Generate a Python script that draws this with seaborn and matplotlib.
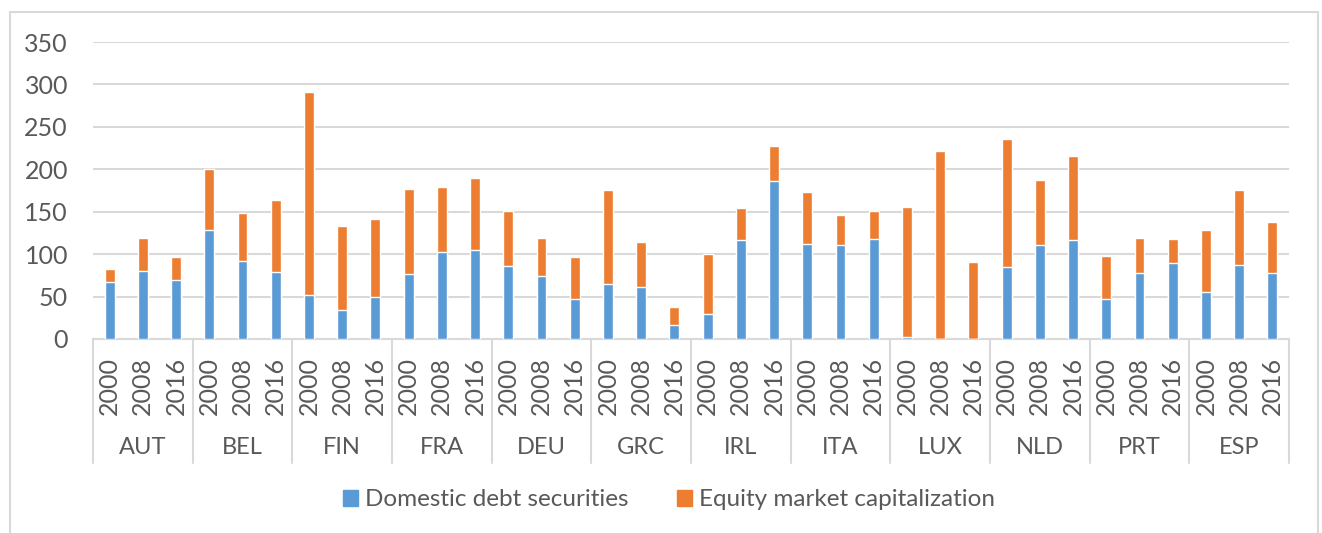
import matplotlib
matplotlib.use("Agg")
import matplotlib.pyplot as plt
import matplotlib.patches as mpatches
import matplotlib.transforms as mtransforms
import pandas as pd
import seaborn as sns

countries = ["AUT", "BEL", "FIN", "FRA", "DEU", "GRC", "IRL", "ITA", "LUX", "NLD", "PRT", "ESP"]
years = ["2000", "2008", "2016"]

# values (% of GDP), in country/year order
debt = [67.5, 80.0, 69.0,
        128.8, 91.9, 78.6,
        51.5, 33.8, 49.9,
        76.2, 102.9, 104.5,
        86.4, 74.6, 46.8,
        65.2, 60.9, 16.9,
        29.5, 116.7, 186.2,
        112.0, 111.2, 118.2,
        2.0, 0.0, 0.0,
        84.5, 110.8, 116.7,
        47.5, 78.2, 89.2,
        55.0, 86.8, 78.2]
equity = [15.4, 38.6, 27.6,
          71.9, 56.9, 85.2,
          239.2, 99.0, 91.1,
          100.9, 76.2, 85.6,
          64.1, 44.8, 49.5,
          110.0, 53.4, 20.8,
          70.7, 37.3, 41.2,
          61.2, 35.3, 33.0,
          153.2, 221.5, 91.1,
          151.2, 76.9, 98.9,
          50.3, 40.8, 28.6,
          73.4, 88.8, 60.0]

BLUE = "#5B9BD5"
ORANGE = "#ED7D31"
GRID = "#D9D9D9"
TEXT = "#595959"

df = pd.DataFrame({
    "country": [c for c in countries for _ in years],
    "year": years * len(countries),
    "debt": debt,
    "equity": equity,
})
df["slot"] = df["country"] + " " + df["year"]
df["total"] = df["debt"] + df["equity"]

sns.set_theme(style="white")
plt.rcParams["font.family"] = ["Lato", "DejaVu Sans"]

fig = plt.figure(figsize=(13.22, 5.33), dpi=100)
ax = fig.add_axes([93 / 1322, 1 - 339 / 533, (1289 - 93) / 1322, (339 - 42) / 533])

# stacked: draw totals in orange, then debt in blue on top
sns.barplot(data=df, x="slot", y="total", color=ORANGE, width=0.3, saturation=1,
            ax=ax, zorder=3)
sns.barplot(data=df, x="slot", y="debt", color=BLUE, width=0.3, saturation=1,
            ax=ax, zorder=4)

ax.set_ylim(0, 350)
ax.set_yticks(range(0, 351, 50))
ax.set_xlim(-0.5, len(df) - 0.5)
ax.yaxis.grid(True, color=GRID, linewidth=1.5, zorder=0)
ax.set_axisbelow(True)
for s in ["top", "right", "left"]:
    ax.spines[s].set_visible(False)
ax.spines["bottom"].set_color(GRID)
ax.spines["bottom"].set_linewidth(1.5)

ax.set_xticks(range(len(df)))
ax.set_xticklabels(df["year"], rotation=90, va="top")
ax.tick_params(axis="x", length=0, pad=13, labelsize=18, labelcolor=TEXT)
ax.tick_params(axis="y", length=0, pad=18, labelsize=18, labelcolor=TEXT)
ax.set_xlabel("")
ax.set_ylabel("")

# category labels and separators under the axis
trans = mtransforms.blended_transform_factory(ax.transData, ax.transAxes)
y_lab = -(447 - 339) / (339 - 42)
y_sep = -(463 - 339) / (339 - 42)
for i, c in enumerate(countries):
    ax.text(i * 3 + 1, y_lab, c, transform=trans, ha="center", va="center",
            fontsize=17, color=TEXT)
for k in range(len(countries) + 1):
    ax.plot([k * 3 - 0.5, k * 3 - 0.5], [0, y_sep], transform=trans,
            color=GRID, linewidth=1.5, clip_on=False)

# outer chart frame
fig.patches.append(mpatches.Rectangle((10 / 1322, -0.05), (1318 - 10) / 1322, 1.05 - 12 / 533,
                                      transform=fig.transFigure, fill=False,
                                      edgecolor=GRID, linewidth=1.5))

handles = [mpatches.Patch(color=BLUE, label="Domestic debt securities"),
           mpatches.Patch(color=ORANGE, label="Equity market capitalization")]
fig.legend(handles=handles, loc="center", bbox_to_anchor=(0.506, 1 - 500 / 533), ncol=2,
           frameon=False, fontsize=17.5, labelcolor=TEXT, handlelength=0.6,
           handleheight=0.6, handletextpad=0.3, columnspacing=2.0)

fig.savefig("out.png", dpi=100)
